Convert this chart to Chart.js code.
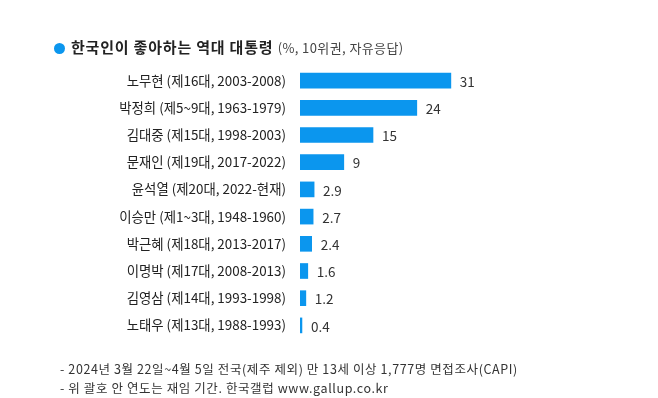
<!DOCTYPE html>
<html>
<head>
<meta charset="utf-8">
<script src="https://cdn.jsdelivr.net/npm/chart.js@4.4.1/dist/chart.umd.min.js"></script>
<style>
  html, body { margin: 0; padding: 0; background: #fff; }
  #wrap { position: relative; width: 658px; height: 398px; font-family: "Noto Sans CJK KR", sans-serif; }
  #title { position: absolute; left: 54px; top: 36px; font-size: 15px; letter-spacing: 0.8px; font-weight: bold; color: #222; white-space: nowrap; }
  #title .dot { display: inline-block; width: 11px; height: 11px; border-radius: 50%; background: #0b96ee; margin-right: 6px; vertical-align: -1px; }
  #title .sub { font-weight: normal; font-size: 13px; letter-spacing: 0.4px; color: #444; }
  .note { position: absolute; left: 60px; font-size: 12.5px; letter-spacing: 0.6px; color: #333; white-space: nowrap; }
</style>
</head>
<body>
<div id="wrap">
  <canvas id="presChart" width="658" height="398"></canvas>
  <div id="title"><span class="dot"></span>한국인이 좋아하는 역대 대통령 <span class="sub">(%, 10위권, 자유응답)</span></div>
  <div class="note" style="top:359px">- 2024년 3월 22일~4월 5일 전국(제주 제외) 만 13세 이상 1,777명 면접조사(CAPI)</div>
  <div class="note" style="top:378px">- 위 괄호 안 연도는 재임 기간. 한국갤럽 www.gallup.co.kr</div>
</div>
<script>
const labels = [
  '노무현 (제16대, 2003-2008)',
  '박정희 (제5~9대, 1963-1979)',
  '김대중 (제15대, 1998-2003)',
  '문재인 (제19대, 2017-2022)',
  '윤석열 (제20대, 2022-현재)',
  '이승만 (제1~3대, 1948-1960)',
  '박근혜 (제18대, 2013-2017)',
  '이명박 (제17대, 2008-2013)',
  '김영삼 (제14대, 1993-1998)',
  '노태우 (제13대, 1988-1993)'
];
const values = [31, 24, 15, 9, 2.9, 2.7, 2.4, 1.6, 1.2, 0.4];
const valueLabels = ['31', '24', '15', '9', '2.9', '2.7', '2.4', '1.6', '1.2', '0.4'];

// 막대 끝에 값 표시
const valueLabelPlugin = {
  id: 'valueLabels',
  afterDatasetsDraw(chart) {
    const ctx = chart.ctx;
    const meta = chart.getDatasetMeta(0);
    ctx.save();
    ctx.font = '13.5px "Noto Sans CJK KR", sans-serif';
    ctx.fillStyle = '#333';
    ctx.textBaseline = 'middle';
    meta.data.forEach((bar, i) => {
      ctx.fillText(valueLabels[i], bar.x + 9, bar.y + 1);
    });
    ctx.restore();
  }
};

new Chart(document.getElementById('presChart'), {
  type: 'bar',
  data: {
    labels: labels,
    datasets: [{
      data: values,
      backgroundColor: '#0b96ee',
      barThickness: 15
    }]
  },
  options: {
    indexAxis: 'y',
    responsive: false,
    animation: false,
    layout: { padding: { top: 67, bottom: 59, left: 0, right: 66 } },
    plugins: { legend: { display: false }, tooltip: { enabled: false } },
    scales: {
      x: {
        min: 0,
        max: 60,
        display: false
      },
      y: {
        grid: { display: false, drawTicks: false },
        border: { display: false },
        ticks: {
          color: '#222',
          padding: 14,
          font: { family: '"Noto Sans CJK KR", sans-serif', size: 13.4 }
        },
        afterFit(scale) { scale.width = 300; }
      }
    }
  },
  plugins: [valueLabelPlugin]
});
</script>
</body>
</html>
